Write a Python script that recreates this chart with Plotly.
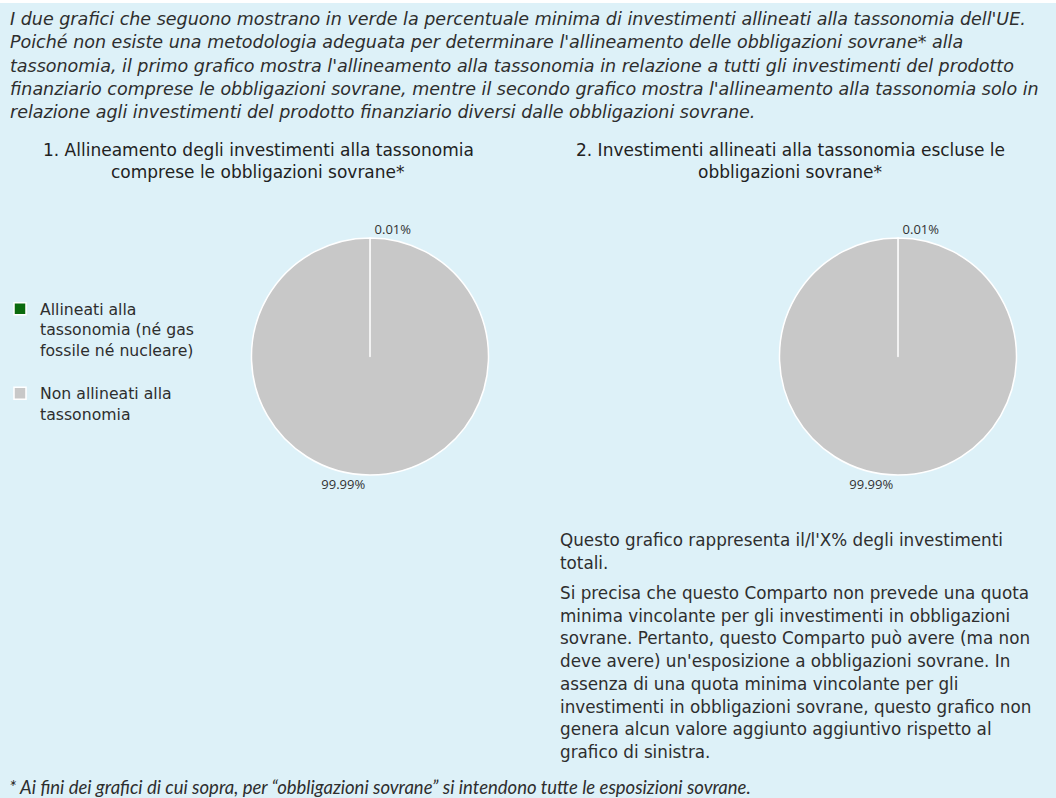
import plotly.graph_objects as go

W, H = 1056, 798
FONT = "DejaVu Sans"
TXT = "#2e2e2e"
BG = "#ddf1f8"

labels = ["Allineati alla<br>tassonomia (né gas<br>fossile né nucleare)<br> ",
          "Non allineati alla<br>tassonomia"]
values_incl = [0.01, 99.99]
values_excl = [0.01, 99.99]
text_incl = ["0.01%", "99.99%"]
text_excl = ["0.01%", "99.99%"]
colors = ["#0b6b0e", "#c8c8c8"]

titles = ["1. Allineamento degli investimenti alla tassonomia<br>comprese le obbligazioni sovrane*",
          "2. Investimenti allineati alla tassonomia escluse le<br>obbligazioni sovrane*"]

intro_lines = [
    "I due grafici che seguono mostrano in verde la percentuale minima di investimenti allineati alla tassonomia dell'UE.",
    "Poiché non esiste una metodologia adeguata per determinare l'allineamento delle obbligazioni sovrane* alla",
    "tassonomia, il primo grafico mostra l'allineamento alla tassonomia in relazione a tutti gli investimenti del prodotto",
    "finanziario comprese le obbligazioni sovrane, mentre il secondo grafico mostra l'allineamento alla tassonomia solo in",
    "relazione agli investimenti del prodotto finanziario diversi dalle obbligazioni sovrane.",
]
note_para1 = ["Questo grafico rappresenta il/l'X% degli investimenti", "totali."]
note_para2 = [
    "Si precisa che questo Comparto non prevede una quota",
    "minima vincolante per gli investimenti in obbligazioni",
    "sovrane. Pertanto, questo Comparto può avere (ma non",
    "deve avere) un'esposizione a obbligazioni sovrane. In",
    "assenza di una quota minima vincolante per gli",
    "investimenti in obbligazioni sovrane, questo grafico non",
    "genera alcun valore aggiunto aggiuntivo rispetto al",
    "grafico di sinistra.",
]
footnote = "* Ai fini dei grafici di cui sopra, per “obbligazioni sovrane” si intendono tutte le esposizioni sovrane."


def px_x(v):
    return v / W


def px_y(v):
    return 1 - v / H


def pie_domain(cx, cy, half):
    return dict(x=[px_x(cx - half), px_x(cx + half)], y=[px_y(cy + half), px_y(cy - half)])


fig = go.Figure()
for vals, txt, cx, lg in [(values_incl, text_incl, 370, "legend"), (values_excl, text_excl, 898, "legend2")]:
    fig.add_trace(go.Pie(
        labels=labels, values=vals, text=txt, textinfo="text",
        textposition="outside", sort=False, direction="clockwise", rotation=0,
        marker=dict(colors=colors, line=dict(color="white", width=1.5)),
        textfont=dict(family="Open Sans", size=13, color="#333333"),
        domain=pie_domain(cx, 356.5, 118.5), legend=lg,
        hovertemplate="%{percent}<extra></extra>",
    ))

ann = []


def add_line(text, x, y, size=16, italic=False, xanchor="left", color=TXT, family=FONT):
    ann.append(dict(text=f"<i>{text}</i>" if italic else text, x=px_x(x), y=px_y(y),
                    xref="paper", yref="paper", xanchor=xanchor, yanchor="middle",
                    showarrow=False, align="left" if xanchor == "left" else "center",
                    borderpad=0, font=dict(family=family, size=size, color=color)))


for i, line in enumerate(intro_lines):
    add_line(line, 9, 19 + i * 23.3, size=17.5, italic=True)
for t, cx in zip(titles, [258, 790]):
    for j, part in enumerate(t.split("<br>")):
        add_line(part, cx, 150 + j * 22, size=17, xanchor="center", color="#222222")
for i, line in enumerate(note_para1):
    add_line(line, 559, 540 + i * 22.6, size=16.8)
for i, line in enumerate(note_para2):
    add_line(line, 559, 593 + i * 22.7, size=16.8)
add_line(footnote, 8, 787, size=18.5, italic=True, family="Lato")

legend_common = dict(font=dict(family=FONT, size=15.7, color=TXT), bgcolor="rgba(0,0,0,0)",
                     xanchor="left", yanchor="top", valign="top",
                     itemclick=False, itemdoubleclick=False)

fig.update_layout(
    width=W, height=H, autosize=False,
    margin=dict(l=0, r=0, t=0, b=0),
    paper_bgcolor=BG, plot_bgcolor=BG,
    showlegend=True,
    legend=dict(x=px_x(0), y=px_y(292), **legend_common),
    legend2=dict(x=px_x(529), y=px_y(292), **legend_common),
    annotations=ann,
    shapes=[dict(type="rect", xref="paper", yref="paper", x0=0, x1=1, y0=px_y(3), y1=1,
                 fillcolor="white", line=dict(width=0), layer="above")],
)

fig.write_html("out.html", config={"displayModeBar": False},
               post_script="document.body.style.margin='0';document.body.style.overflow='hidden';")
